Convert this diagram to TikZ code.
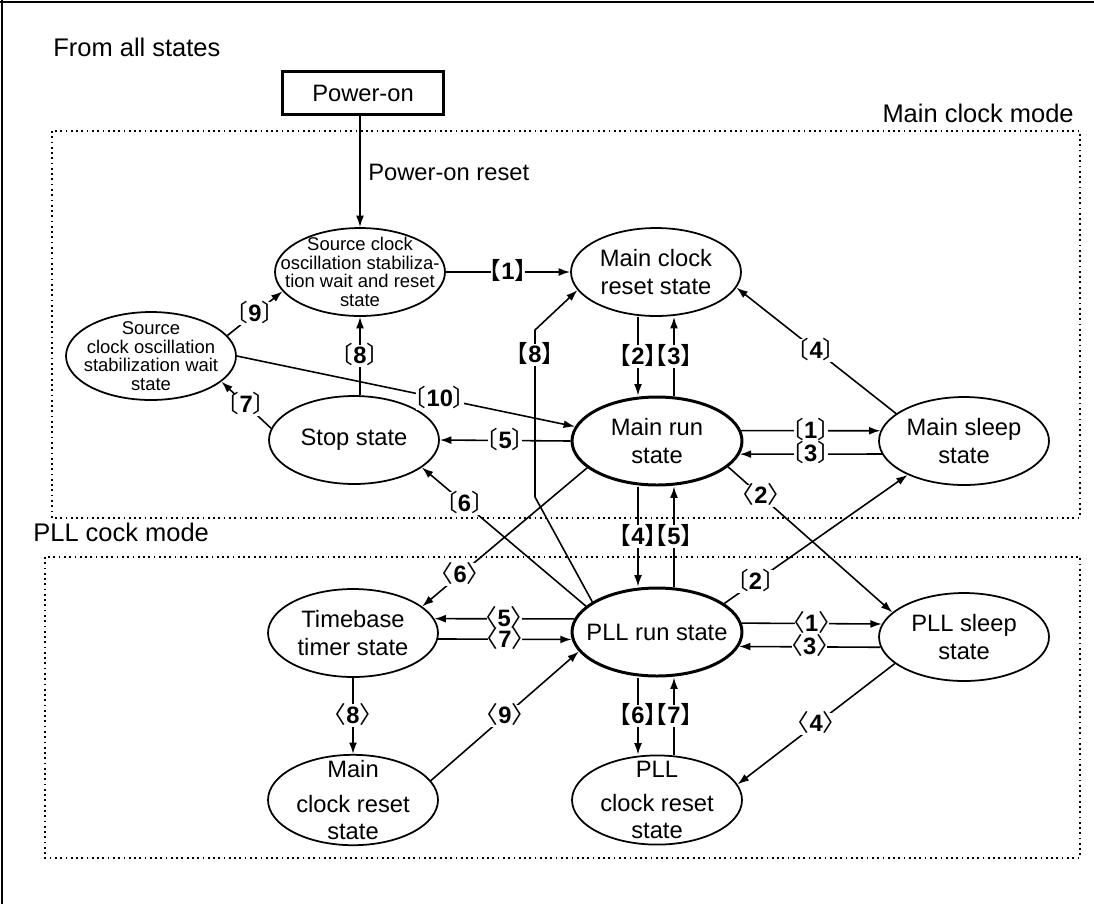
\documentclass[tikz,border=0pt]{standalone}
\usepackage{fontspec}
\setmainfont{Liberation Sans}
\newfontfamily\cjk{Noto Sans CJK JP}
\usetikzlibrary{arrows.meta,shapes.geometric}

% transition tags: [n] bold, (n) light, <n> angle
\newcommand{\bk}[1]{{\cjk\kern-.66em 【}\textbf{#1}{\cjk 】\kern-.66em}}
\newcommand{\sq}[1]{{\cjk\kern-.66em 〔}\textbf{#1}{\cjk 〕\kern-.66em}}
\newcommand{\ag}[1]{{\cjk\kern-.66em 〈}\textbf{#1}{\cjk 〉\kern-.66em}}

\begin{document}
\begin{tikzpicture}[x=0.02cm, y=-0.02cm,
    state/.style={ellipse, draw, line width=1pt, minimum width=3.4cm, minimum height=1.76cm,
        inner xsep=-0.4cm, inner ysep=-0.15cm, align=center, font=\fontsize{13.5}{15.5}\selectfont},
    busy/.style={state, line width=1.7pt},
    small/.style={state, font=\fontsize{10.5}{10.5}\selectfont},
    tag/.style={fill=white, inner xsep=1.5pt, inner ysep=1.5pt, text height=9.5pt, text depth=0.5pt,
        font=\fontsize{13.5}{13.5}\selectfont},
    flow/.style={-{Latex[length=6.5pt,width=4.5pt]}, line width=0.9pt},
    mode/.style={dash pattern=on 1pt off 2pt, line width=1pt},
    caption/.style={anchor=west, inner sep=0pt, font=\fontsize{13.5}{15.5}\selectfont},
    heading/.style={caption, font=\fontsize{14.5}{17}\selectfont}]
    \useasboundingbox (0,0) rectangle (1094,904);
    \draw[line width=1.4pt] (0,2) -- (1094,2);
    \draw[line width=1.4pt] (2,0) -- (2,904);

    % Mode areas
    \draw[mode] (52,131) rectangle (1080,518);
    \draw[mode] (45,557) rectangle (1080,858);
    \node[heading] (all) at (53,47) {From all states};
    \node[heading, anchor=east] (mainmode) at (1074,113) {Main clock mode};
    \node[heading] (pllmode) at (33,532) {PLL cock mode};

    % Columns for the vertical pairs
    \coordinate (cs) at (360,0);
    \coordinate (cl) at (638,0);
    \coordinate (cr) at (674,0);
    \coordinate (ct) at (353,0);

    % States
    \node[draw, line width=1.2pt, minimum width=3.22cm, minimum height=0.86cm,
        font=\fontsize{13.5}{15.5}\selectfont] (pwr) at (363,93) {Power-on};
    \node[small] (src) at (360,272) {Source clock\\oscillation stabiliza-\\tion wait and reset\\state};
    \node[state] (mcr) at (656,272) {Main clock\\reset state};
    \node[small] (osc) at (151,356) {Source\\clock oscillation\\stabilization wait\\state};
    \node[state] (stop) at (354,440) {Stop state};
    \node[busy] (mrun) at (657,441) {Main run\\state};
    \node[state] (msl) at (964,441) {Main sleep\\state};
    \node[state] (tbt) at (353,633) {Timebase\\timer state};
    \node[busy] (prun) at (657,632) {PLL run state};
    \node[state] (psl) at (964,637) {PLL sleep\\state};
    \node[state] (mrst) at (353,800) {Main\\[4pt]clock reset\\state};
    \node[state] (prst) at (657,800) {PLL\\[4pt]clock reset\\state};

    % Power-on
    \draw[flow] (cs |- pwr.south) -- (cs |- src.north);
    \node[caption] (pwrrst) at (368,172) {Power-on reset};

    % Main clock mode
    \draw[flow] (src.east) -- node[tag] {\bk{1}} (mcr.west);
    \draw[flow] (osc.15) -- node[tag] {\sq{9}} (src.194);
    \draw[flow] (stop.172) -- node[tag] {\sq{7}} (osc.-20);
    \draw[flow] (cs |- stop.north) -- node[tag] {\sq{8}} (cs |- src.south);
    \draw[flow] (osc.0) -- node[tag, pos=0.6] {\sq{10}} (mrun.170);
    \draw[flow] (mrun.west) -- node[tag] {\sq{5}} (stop.east);
    \draw[flow] (cl |- mcr.south) -- node[tag] {\bk{2}} (cl |- mrun.north);
    \draw[flow] (cr |- mrun.north) -- node[tag] {\bk{3}} (cr |- mcr.south);
    \draw[flow] (mrun.7) -- node[tag] {\sq{1}} (msl.173);
    \draw[flow] (msl.189) -- node[tag] {\sq{3}} (mrun.-9);
    \draw[flow] (msl.158) -- node[tag] {\sq{4}} (mcr.-11);

    % Between the modes
    \draw[flow] (prun.160) -- node[tag, pos=0.74] {\sq{6}} (stop.-22);
    \draw[flow] (prun.155) -- (535,497) -- node[tag, pos=0.85] {\bk{8}} (535,330) -- (mcr.193);
    \draw[flow] (cl |- mrun.south) -- node[tag] {\bk{4}} (cl |- prun.north);
    \draw[flow] (cr |- prun.north) -- node[tag] {\bk{5}} (cr |- mrun.south);
    \draw[flow] (mrun.201) -- node[tag, pos=0.77] {\ag{6}} (tbt.21);
    \draw[flow] (mrun.-20) -- node[tag, pos=0.2] {\ag{2}} (psl.161);
    \draw[flow] (prun.23) -- node[tag, pos=0.17] {\sq{2}} (msl.211);

    % PLL clock mode
    \draw[flow] (prun.171) -- node[tag] {\ag{5}} (tbt.10);
    \draw[flow] (tbt.-4) -- node[tag] {\ag{7}} (prun.185);
    \draw[flow] (prun.6) -- node[tag] {\ag{1}} (psl.171);
    \draw[flow] (psl.187) -- node[tag] {\ag{3}} (prun.-10.5);
    \draw[flow] (ct |- tbt.south) -- node[tag] {\ag{8}} (ct |- mrst.north);
    \draw[flow] (mrst.14) -- node[tag] {\ag{9}} (prun.194);
    \draw[flow] (cl |- prun.south) -- node[tag] {\bk{6}} (cl |- prst.north);
    \draw[flow] (cr |- prst.north) -- node[tag] {\bk{7}} (cr |- prun.south);
    \draw[flow] (psl.201) -- node[tag] {\ag{4}} (prst.11);

\end{tikzpicture}
\end{document}
